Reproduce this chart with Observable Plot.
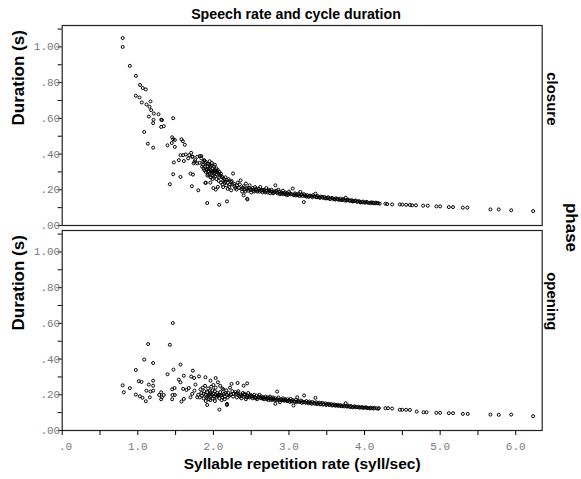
<!DOCTYPE html>
<html><head><meta charset="utf-8">
<script src="https://cdn.jsdelivr.net/npm/d3@7"></script>
<script src="https://cdn.jsdelivr.net/npm/@observablehq/plot@0.6"></script>
<style>
body{margin:0;background:#fff}
#wrap{position:relative;width:581px;height:479px;background:#fff}
#title{position:absolute;left:0;top:6px;width:592px;text-align:center;font:bold 14.2px "Liberation Sans",Arial,sans-serif;color:#000}
</style>
</head><body>
<div id="wrap"><div id="chart"></div><div id="title">Speech rate and cycle duration</div></div>
<script>
const title = "Speech rate and cycle duration";
const phases = ["closure", "opening"];
const yLabel = "Duration (s)";
const xLabel = "Syllable repetition rate (syll/sec)";
const facetLabel = "phase";

const yTickValues = [0, 0.1, 0.2, 0.3, 0.4, 0.5, 0.6, 0.7, 0.8, 0.9, 1.0, 1.1];
const yTickLabels = [".00", "", ".20", "", ".40", "", ".60", "", ".80", "", "1.00", ""];
const xTickValues = [0, 0.5, 1, 1.5, 2, 2.5, 3, 3.5, 4, 4.5, 5, 5.5, 6];
const xTickLabels = ["\u00a0.0", "", "1.0", "", "2.0", "", "3.0", "", "4.0", "", "5.0", "", "6.0"];

// closure panel: syllable rate (syll/sec) and duration (s)
const closureRate = [
0.80,0.80,0.895,0.975,1.03,1.066,1.106,0.974,1.023,1.053,1.115,1.168,1.155,1.177,1.212,1.274,1.146,1.208,1.203,1.309,
1.32,1.468,1.344,1.309,1.085,1.133,1.203,1.393,1.455,1.468,1.49,1.45,1.49,1.578,1.596,1.622,1.565,1.60,1.635,1.68,
1.706,1.543,1.609,1.666,1.477,1.468,1.565,1.424,1.697,1.73,1.715,1.80,1.918,2.077,2.18,2.45,1.90,1.895,1.96,2.0,
1.72,1.76,1.786,1.82,1.84,1.74,1.816,1.84,1.88,1.88,1.895,1.92,1.94,1.96,2.005,2.03,1.90,1.93,1.95,1.97,
1.99,1.91,1.93,1.95,1.98,2.01,2.04,2.06,2.08,2.10,1.92,1.97,2.0,2.02,2.05,2.08,2.11,2.14,2.16,2.18,
2.2,2.23,2.26,2.03,2.06,2.12,2.15,2.17,2.235,2.21,2.25,2.28,2.306,
1.86,1.87,1.89,1.90,1.92,1.94,1.96,1.98,2.0,2.01,2.03,2.05,2.07,2.09,2.12,2.13,2.16,2.19,2.22,2.24,
2.27,2.29,1.95,1.98,2.02,1.85,1.88,1.93,1.96,1.99,2.04,2.07,2.1,2.13,2.19,1.728,1.75,1.786,1.865,
2.32,2.34,2.36,2.37,2.38,2.40,2.40,2.41,2.43,2.44,2.447,2.46,2.48,2.49,2.50,2.52,2.53,2.55,2.56,2.58,
2.60,2.62,2.63,2.65,2.67,2.68,2.70,2.72,2.74,2.75,2.77,2.78,2.80,2.82,2.83,2.85,2.87,2.88,2.90,2.92,
2.93,2.95,2.97,2.98,3.00,3.02,3.05,3.06,3.08,3.10,3.13,3.15,3.16,3.18,3.196,3.20,3.22,3.24,3.26,3.28,
3.30,3.32,3.35,3.36,3.38,3.40,3.42,3.45,3.47,3.50,3.52,3.55,3.57,3.60,3.62,3.65,3.68,3.70,3.72,3.75,
3.76,3.78,3.80,3.83,3.85,3.88,3.90,3.93,3.95,3.98,4.00,4.03,4.06,4.09,4.12,4.15,4.18,
2.31,2.35,2.39,2.42,2.45,2.47,2.51,2.54,2.57,2.59,2.61,2.64,2.66,2.69,2.71,2.73,2.76,2.79,2.81,2.84,
2.86,2.89,2.91,2.94,2.96,2.99,3.01,3.04,3.07,3.09,3.12,3.14,3.17,3.21,3.23,3.27,3.31,3.34,3.37,3.41,
3.44,3.48,3.51,3.54,3.58,3.61,3.64,3.67,3.71,3.74,3.77,3.81,3.84,3.87,3.91,3.94,3.97,4.01,4.04,4.08,
4.11,4.14,4.17,4.2,
4.276,4.30,4.365,4.466,4.50,4.55,4.60,4.63,4.68,4.775,4.836,4.95,5.0,5.115,5.17,5.30,5.36,5.665,5.775,5.94,6.23
];
const closureDur = [
1.05,1.00,0.894,0.838,0.787,0.77,0.762,0.727,0.717,0.689,0.678,0.695,0.665,0.646,0.627,0.623,0.61,0.592,0.573,0.593,
0.59,0.601,0.556,0.552,0.524,0.458,0.436,0.449,0.494,0.483,0.479,0.462,0.44,0.483,0.472,0.452,0.394,0.394,0.398,0.394,
0.407,0.366,0.361,0.376,0.353,0.287,0.272,0.231,0.291,0.285,0.22,0.197,0.126,0.116,0.135,0.146,0.24,0.238,0.24,0.21,
0.385,0.366,0.385,0.389,0.376,0.348,0.351,0.389,0.366,0.362,0.348,0.332,0.319,0.328,0.31,0.30,0.355,0.345,0.34,0.335,
0.32,0.31,0.30,0.29,0.295,0.33,0.32,0.31,0.30,0.29,0.28,0.27,0.28,0.275,0.285,0.27,0.275,0.26,0.27,0.255,
0.26,0.245,0.291,0.201,0.216,0.23,0.24,0.225,0.197,0.215,0.23,0.22,0.201,
0.34,0.32,0.33,0.30,0.315,0.305,0.31,0.305,0.30,0.29,0.31,0.30,0.29,0.28,0.27,0.25,0.245,0.24,0.23,0.25,
0.235,0.21,0.36,0.35,0.34,0.33,0.31,0.285,0.27,0.26,0.26,0.25,0.24,0.215,0.205,0.385,0.357,0.348,0.357,
0.24,0.21,0.253,0.205,0.19,0.169,0.22,0.2,0.235,0.21,0.15,0.195,0.225,0.2,0.185,0.21,0.195,0.215,0.2,0.19,
0.205,0.216,0.195,0.185,0.2,0.19,0.21,0.185,0.195,0.18,0.2,0.19,0.185,0.225,0.195,0.18,0.19,0.175,0.185,0.195,
0.175,0.185,0.17,0.18,0.19,0.175,0.207,0.17,0.18,0.175,0.178,0.188,0.17,0.165,0.131,0.175,0.165,0.17,0.16,0.168,
0.162,0.17,0.178,0.16,0.165,0.158,0.162,0.155,0.16,0.152,0.158,0.15,0.155,0.148,0.152,0.145,0.15,0.142,0.148,0.156,
0.14,0.145,0.138,0.142,0.136,0.14,0.133,0.136,0.13,0.134,0.128,0.132,0.127,0.13,0.125,0.128,0.124,
0.225,0.23,0.21,0.19,0.205,0.21,0.2,0.19,0.205,0.195,0.19,0.2,0.195,0.185,0.195,0.2,0.19,0.18,0.19,0.185,
0.2,0.18,0.178,0.18,0.178,0.172,0.18,0.175,0.172,0.168,0.17,0.165,0.175,0.168,0.162,0.165,0.158,0.163,0.158,0.155,
0.16,0.152,0.155,0.148,0.15,0.145,0.15,0.143,0.145,0.14,0.142,0.14,0.135,0.137,0.135,0.13,0.13,0.13,0.128,0.125,
0.128,0.124,0.126,0.122,
0.122,0.12,0.118,0.118,0.117,0.116,0.115,0.113,0.113,0.111,0.111,0.107,0.107,0.103,0.103,0.1,0.1,0.09,0.09,0.085,0.081
];

// opening panel
const openingRate = [
0.80,0.815,0.895,0.974,0.974,1.013,1.049,1.027,1.062,1.085,1.106,1.115,1.137,1.146,1.159,1.168,1.203,1.203,1.203,1.203,
1.283,1.309,1.318,1.344,1.309,1.393,1.424,1.463,1.472,1.455,1.486,1.459,1.49,1.455,1.543,1.565,1.565,1.609,1.60,1.644,
1.675,1.706,1.728,1.745,1.763,1.75,1.72,1.697,1.609,1.578,1.786,1.81,1.895,1.962,2.03,1.918,2.08,2.18,2.18,2.24,
2.32,2.40,2.447,
1.80,1.82,1.84,1.85,1.87,1.88,1.9,1.91,1.92,1.93,1.94,1.95,1.96,1.97,1.98,1.99,2.0,2.01,2.02,2.03,
2.04,2.05,2.06,2.07,2.08,2.09,2.1,2.11,2.12,2.13,2.14,2.15,2.16,2.17,2.18,2.19,2.2,2.21,2.22,2.23,
2.25,2.26,2.27,2.29,1.86,1.89,1.93,1.97,2.0,2.03,2.06,2.09,2.12,1.99,1.95,1.9,1.96,2.02,2.11,2.15,
1.83,1.87,1.92,2.05,2.08,
2.30,2.31,2.33,2.34,2.36,2.37,2.39,2.40,2.42,2.43,2.45,2.46,2.48,2.49,2.51,2.52,2.54,2.55,2.57,2.58,
2.60,2.61,2.63,2.64,2.66,2.67,2.69,2.70,2.72,2.73,2.75,2.76,2.78,2.79,2.81,2.82,2.844,2.82,2.85,2.86,
2.88,2.89,2.91,2.92,2.94,2.95,2.97,2.98,3.00,3.02,3.03,3.06,3.05,3.07,3.09,3.11,3.12,3.14,3.16,3.18,
3.2,3.21,3.23,3.25,3.27,3.29,3.31,3.33,3.35,3.36,3.38,3.40,3.42,3.44,3.46,3.48,3.50,3.52,3.54,3.56,
3.58,3.60,3.62,3.64,3.66,3.68,3.70,3.72,3.75,3.76,3.78,3.80,3.82,3.85,3.87,3.90,3.92,3.95,3.97,4.00,
4.02,4.05,4.08,4.10,4.13,4.16,4.19,
2.32,2.35,2.38,2.41,2.44,2.47,2.50,2.53,2.56,2.59,2.62,2.65,2.68,2.71,2.74,2.77,2.80,2.83,2.87,2.90,
2.93,2.96,2.99,3.01,3.04,3.08,3.10,3.13,3.17,3.19,3.22,3.26,3.30,3.34,3.37,3.41,3.45,3.49,3.53,3.57,
3.61,3.65,3.69,3.73,3.77,3.81,3.84,3.88,3.93,3.98,4.03,4.07,4.12,4.18,
4.276,4.31,4.365,4.466,4.50,4.55,4.60,4.69,4.78,4.82,4.95,5.0,5.115,5.17,5.30,5.365,5.665,5.775,5.94,6.23
];
const openingDur = [
0.253,0.214,0.237,0.339,0.201,0.276,0.272,0.192,0.183,0.397,0.164,0.223,0.484,0.257,0.186,0.218,0.378,0.279,0.251,0.223,
0.199,0.214,0.186,0.199,0.175,0.315,0.48,0.602,0.341,0.231,0.238,0.199,0.199,0.175,0.285,0.27,0.369,0.307,0.233,0.227,
0.238,0.302,0.335,0.294,0.257,0.223,0.205,0.186,0.177,0.162,0.186,0.303,0.298,0.279,0.294,0.143,0.117,0.149,0.143,0.261,
0.266,0.251,0.264,
0.2,0.185,0.21,0.195,0.18,0.22,0.2,0.185,0.215,0.195,0.175,0.2,0.21,0.19,0.2,0.18,0.205,0.19,0.22,0.2,
0.185,0.21,0.195,0.2,0.18,0.215,0.195,0.2,0.185,0.23,0.205,0.19,0.21,0.225,0.2,0.185,0.21,0.195,0.24,0.2,
0.22,0.19,0.205,0.215,0.24,0.25,0.235,0.245,0.255,0.24,0.27,0.25,0.235,0.225,0.22,0.165,0.17,0.165,0.17,0.175,
0.23,0.205,0.19,0.195,0.2,
0.205,0.185,0.22,0.195,0.2,0.18,0.21,0.19,0.2,0.175,0.195,0.21,0.185,0.2,0.19,0.18,0.2,0.185,0.195,0.175,
0.19,0.2,0.18,0.19,0.185,0.175,0.19,0.18,0.185,0.17,0.19,0.18,0.175,0.185,0.17,0.18,0.218,0.149,0.175,0.185,
0.158,0.175,0.17,0.18,0.168,0.175,0.165,0.175,0.17,0.177,0.165,0.14,0.17,0.165,0.172,0.186,0.165,0.16,0.168,0.162,
0.196,0.16,0.165,0.158,0.162,0.155,0.16,0.155,0.183,0.158,0.152,0.156,0.15,0.155,0.148,0.152,0.146,0.15,0.145,0.148,
0.143,0.146,0.14,0.144,0.14,0.142,0.137,0.14,0.153,0.136,0.14,0.134,0.137,0.133,0.135,0.131,0.133,0.129,0.131,0.128,
0.13,0.126,0.128,0.125,0.127,0.124,0.125,
0.21,0.19,0.195,0.205,0.185,0.19,0.195,0.19,0.18,0.185,0.185,0.18,0.18,0.175,0.18,0.17,0.178,0.17,0.168,0.172,
0.168,0.17,0.165,0.16,0.162,0.16,0.158,0.162,0.155,0.158,0.155,0.152,0.15,0.15,0.148,0.146,0.145,0.143,0.143,0.14,
0.14,0.138,0.136,0.135,0.134,0.132,0.13,0.13,0.128,0.127,0.126,0.124,0.123,0.122,
0.125,0.125,0.123,0.116,0.116,0.116,0.115,0.106,0.102,0.102,0.099,0.099,0.097,0.097,0.093,0.093,0.089,0.088,0.089,0.08
];

const rows = [
  ...closureRate.map((r, i) => ({phase: phases[0], rate: r, dur: closureDur[i]})),
  ...openingRate.map((r, i) => ({phase: phases[1], rate: r, dur: openingDur[i]}))
];

const yFmt = new Map(yTickValues.map((v, i) => [v, yTickLabels[i]]));
const xFmt = new Map(xTickValues.map((v, i) => [v, xTickLabels[i]]));
const mono = "'Liberation Mono','Courier New',monospace";
const sans = "'Liberation Sans',Arial,Helvetica,sans-serif";

const W = 581, H = 479, mT = 25, mB = 49, mL = 61.7, mR = 39.3;

const chart = Plot.plot({
  width: W, height: H,
  marginTop: mT, marginBottom: mB, marginLeft: mL, marginRight: mR,
  style: {fontFamily: sans, background: "white", overflow: "visible"},
  x: {domain: [0, 6.35]},
  y: {domain: [0, 1.12]},
  fy: {domain: phases, paddingInner: 0.0244, paddingOuter: 0, axis: null},
  marks: [
    Plot.frame({stroke: "#222", strokeWidth: 1.2}),
    Plot.axisY({ticks: yTickValues, tickFormat: d => yFmt.get(d), tickSize: 4, tickPadding: -2,
      stroke: "#000", fill: "#7a7a7a", fontFamily: mono, fontSize: 11, label: null}),
    Plot.axisX({ticks: xTickValues, tickFormat: d => xFmt.get(d), tickSize: 5, tickPadding: 7,
      stroke: "#000", fill: "#7a7a7a", fontFamily: mono, fontSize: 11, label: null}),
    Plot.dot(rows, {x: "rate", y: "dur", fy: "phase", r: 1.5, stroke: "#000", strokeWidth: 1, fill: "none"}),
    Plot.text([yLabel], {frameAnchor: "left", rotate: -90, dx: -43.5, fontSize: 17, fontWeight: "bold", fill: "#000"}),
    Plot.text(phases, {fy: d => d, text: d => d, frameAnchor: "right", rotate: 90, dx: 9.5, fontSize: 15, fontWeight: "bold", fill: "#000"}),
    Plot.text([xLabel], {fy: () => phases[1], frameAnchor: "bottom", dy: 38, fontSize: 15.5, fontWeight: "bold", fill: "#000"})
  ]
});

d3.select(chart).append("text")
  .attr("transform", `translate(${W - 10}, ${(mT + H - mB) / 2}) rotate(90)`)
  .attr("text-anchor", "middle").attr("dy", "0.32em")
  .attr("font-family", sans).attr("font-size", 17).attr("font-weight", "bold")
  .text(facetLabel);

document.getElementById("chart").appendChild(chart);
document.getElementById("title").textContent = title;
</script>
</body></html>
